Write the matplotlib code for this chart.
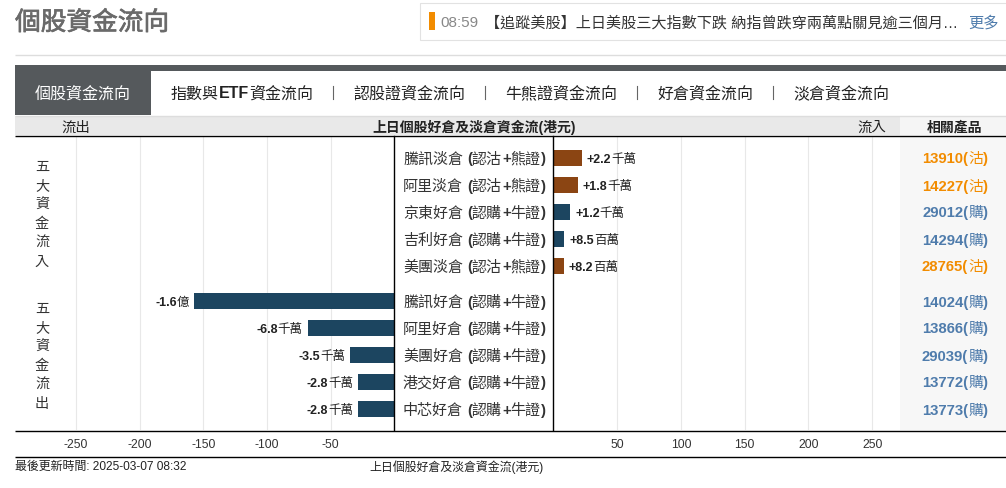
"""Recreate the warrant fund flow page chart."""

import re

import matplotlib
matplotlib.use("Agg")
import matplotlib.patheffects as pe
import matplotlib.pyplot as plt
import numpy as np
from matplotlib.patches import Rectangle

W, H = 1006, 489
LATIN = ["Liberation Sans"]
CJK = ["Noto Sans CJK TC"]
FONT = LATIN + CJK
NAVY = "#1c4560"
BROWN = "#8b4513"
ORANGE = "#f28c00"
BLUE = "#4f7cac"

tabs = ["個股資金流向", "指數與ETF資金流向", "認股證資金流向", "牛熊證資金流向", "好倉資金流向", "淡倉資金流向"]

inflow_names = ["騰訊淡倉 (認沽+熊證)", "阿里淡倉 (認沽+熊證)", "京東好倉 (認購+牛證)", "吉利好倉 (認購+牛證)", "美團淡倉 (認沽+熊證)"]
inflow_values = [22, 19, 13, 8.5, 8.2]
inflow_labels = ["+2.2千萬", "+1.8千萬", "+1.2千萬", "+8.5百萬", "+8.2百萬"]
inflow_products = ["13910(沽)", "14227(沽)", "29012(購)", "14294(購)", "28765(沽)"]

outflow_names = ["騰訊好倉 (認購+牛證)", "阿里好倉 (認購+牛證)", "美團好倉 (認購+牛證)", "港交好倉 (認購+牛證)", "中芯好倉 (認購+牛證)"]
outflow_values = [-157, -68, -35, -28.5, -28.5]
outflow_labels = ["-1.6億", "-6.8千萬", "-3.5千萬", "-2.8千萬", "-2.8千萬"]
outflow_products = ["14024(購)", "13866(購)", "29039(購)", "13772(購)", "13773(購)"]

left_ticks = [-250, -200, -150, -100, -50]
right_ticks = [50, 100, 150, 200, 250]

plt.rcParams["font.family"] = FONT
plt.rcParams["axes.unicode_minus"] = False

fig = plt.figure(figsize=(W / 100, H / 100), dpi=100, facecolor="white")
renderer = fig.canvas.get_renderer()

# page furniture drawn in pixel coordinates
page = fig.add_axes([0, 0, 1, 1], zorder=5)
page.set_xlim(0, W)
page.set_ylim(H, 0)
page.axis("off")
back = fig.add_axes([0, 0, 1, 1], zorder=0)
back.set_xlim(0, W)
back.set_ylim(H, 0)
back.axis("off")


def rect(x0, y0, x1, y1, **kw):
    back.add_patch(Rectangle((x0, y0), x1 - x0, y1 - y0, linewidth=kw.pop("linewidth", 0), **kw))


def hline(y, color, lw=1.0, x0=15, x1=W):
    page.plot([x0, x1], [y, y], color=color, lw=lw, solid_capstyle="butt")


def mixed_text(x, y, text, size, color, ha="left"):
    # ascii in bold latin, the rest regular cjk, y is the baseline
    runs = re.findall(r"[!-~]+|\s+|[^!-~\s]+", text)
    items = []
    total = 0.0
    for run in runs:
        if run.isspace():
            total += size * 0.36
            continue
        bold = run.isascii()
        t = page.text(0, y, run, fontsize=size, color=color, va="baseline",
                      family=LATIN if bold else CJK, weight="bold" if bold else "normal")
        width = size * 100 / 72 * len(run) if not bold else t.get_window_extent(renderer).width
        items.append((t, total))
        total += width
    start = x - total if ha == "right" else x - total / 2 if ha == "center" else x
    for t, off in items:
        t.set_x(start + off)


title = page.text(15, 24, "個股資金流向", fontsize=18.5, color="#6a6a6a", va="center")
title.set_path_effects([pe.withStroke(linewidth=0.5, foreground="#6a6a6a")])
rect(420.5, 3.5, 1010, 40.5, facecolor="white", edgecolor="#e2e2e2", linewidth=0.8)
rect(429, 13, 435, 31, facecolor=ORANGE)
page.text(440, 23, "08:59", fontsize=11, color="#888888", va="center")
page.text(485, 23, "【追蹤美股】上日美股三大指數下跌 納指曾跌穿兩萬點關見逾三個月…",
          fontsize=10.9, color="#333333", va="center")
page.text(968, 23, "更多", fontsize=11, color=BLUE, va="center")
hline(55.5, "#dddddd")

rect(15, 66, W, 72, facecolor="#55595c")
rect(15, 66, 151, 116, facecolor="#55595c")
tab_x = [35, 171, 353, 505, 657, 793]
for i, (x, label) in enumerate(zip(tab_x, tabs)):
    mixed_text(x, 98.5, label, 11.5, "white" if i == 0 else "#222222")
for x in [333.5, 485.5, 637.5, 773.5]:
    page.plot([x, x], [87, 100], color="#666666", lw=0.8)

rect(15, 117, 900, 136, facecolor="#e9e9e9")
rect(900, 117, W, 136, facecolor="#f5f5f5")
rect(900, 137, W, 431, facecolor="#f7f7f7")
hline(116.5, "#dddddd")
page.text(76, 127.5, "流出", fontsize=10.4, ha="center", va="center", color="#222222")
page.text(474.5, 127.5, "上日個股好倉及淡倉資金流(港元)", fontsize=10, ha="center", va="center",
          color="#222222", weight="bold")
page.text(872, 127.5, "流入", fontsize=10.4, ha="center", va="center", color="#222222")
page.text(954, 127.5, "相關產品", fontsize=10, ha="center", va="center", color="#222222", weight="bold")

row_in = 159 + 27 * np.arange(5)
row_out = 302 + 27 * np.arange(5)

for word, start in [("五大資金流入", 167), ("五大資金流出", 309)]:
    for i, ch in enumerate(word):
        page.text(42, start + 19 * i, ch, fontsize=10.2, ha="center", va="center", color="#333333")

for names, rows, products in [(inflow_names, row_in, inflow_products), (outflow_names, row_out, outflow_products)]:
    for name, y, product in zip(names, rows, products):
        mixed_text(403, y + 4.5, name, 10.8, "#333333")
        mixed_text(955, y + 4.5, product, 10.7, ORANGE if "沽" in product else BLUE, ha="center")

page.text(15, 467, "最後更新時間: 2025-03-07 08:32", fontsize=8.6, va="center", color="#222222")
page.text(369, 467, "上日個股好倉及淡倉資金流(港元)", fontsize=8.6, va="center", color="#222222")

# bar panels, 1.275 px per unit, rows on the pixel scale of the page
PX = 1.275
top, bottom = 137, 431
ax_l = fig.add_axes([15 / W, 1 - bottom / H, (394.5 - 15) / W, (bottom - top) / H], zorder=1)
ax_r = fig.add_axes([553.5 / W, 1 - bottom / H, (900 - 553.5) / W, (bottom - top) / H], zorder=1)
ax_l.set_xlim(-(394.5 - 15) / PX, 0)
ax_r.set_xlim(0, (900 - 553.5) / PX)

bars_r = ax_r.barh(row_in, inflow_values, height=16.5,
                   color=[BROWN if "沽" in n else NAVY for n in inflow_names], zorder=3)
bars_l = ax_l.barh(row_out, outflow_values, height=16.5, color=NAVY, zorder=3)

for ax, ticks in [(ax_l, left_ticks), (ax_r, right_ticks)]:
    ax.patch.set_alpha(0)
    ax.set_ylim(bottom, top)
    ax.set_yticks([])
    ax.set_xticks(ticks)
    ax.tick_params(axis="x", length=0, labelsize=8.8, pad=6, labelcolor="#333333")
    ax.grid(axis="x", color="#e8e8e8", lw=0.8, zorder=0)
    ax.set_axisbelow(True)
    for side in ax.spines:
        ax.spines[side].set_visible(False)

# value labels sit just past the bar ends
to_page = page.transData.inverted()
for ax, values, rows, labels, gap, ha in [
    (ax_r, inflow_values, row_in, inflow_labels, 5, "left"),
    (ax_l, outflow_values, row_out, outflow_labels, -5, "right"),
]:
    for value, y, label in zip(values, rows, labels):
        px, _ = to_page.transform(ax.transData.transform((value, y)))
        mixed_text(px + gap, y + 4, label, 9, "#222222", ha=ha)

hline(136.5, "black", 1.0)
hline(431.5, "black", 1.0)
hline(457.5, "black", 1.0)
page.plot([394.5, 394.5], [137, 431], color="black", lw=1.0)
page.plot([553.5, 553.5], [137, 431], color="black", lw=1.0)

fig.savefig("out.png", dpi=100)
